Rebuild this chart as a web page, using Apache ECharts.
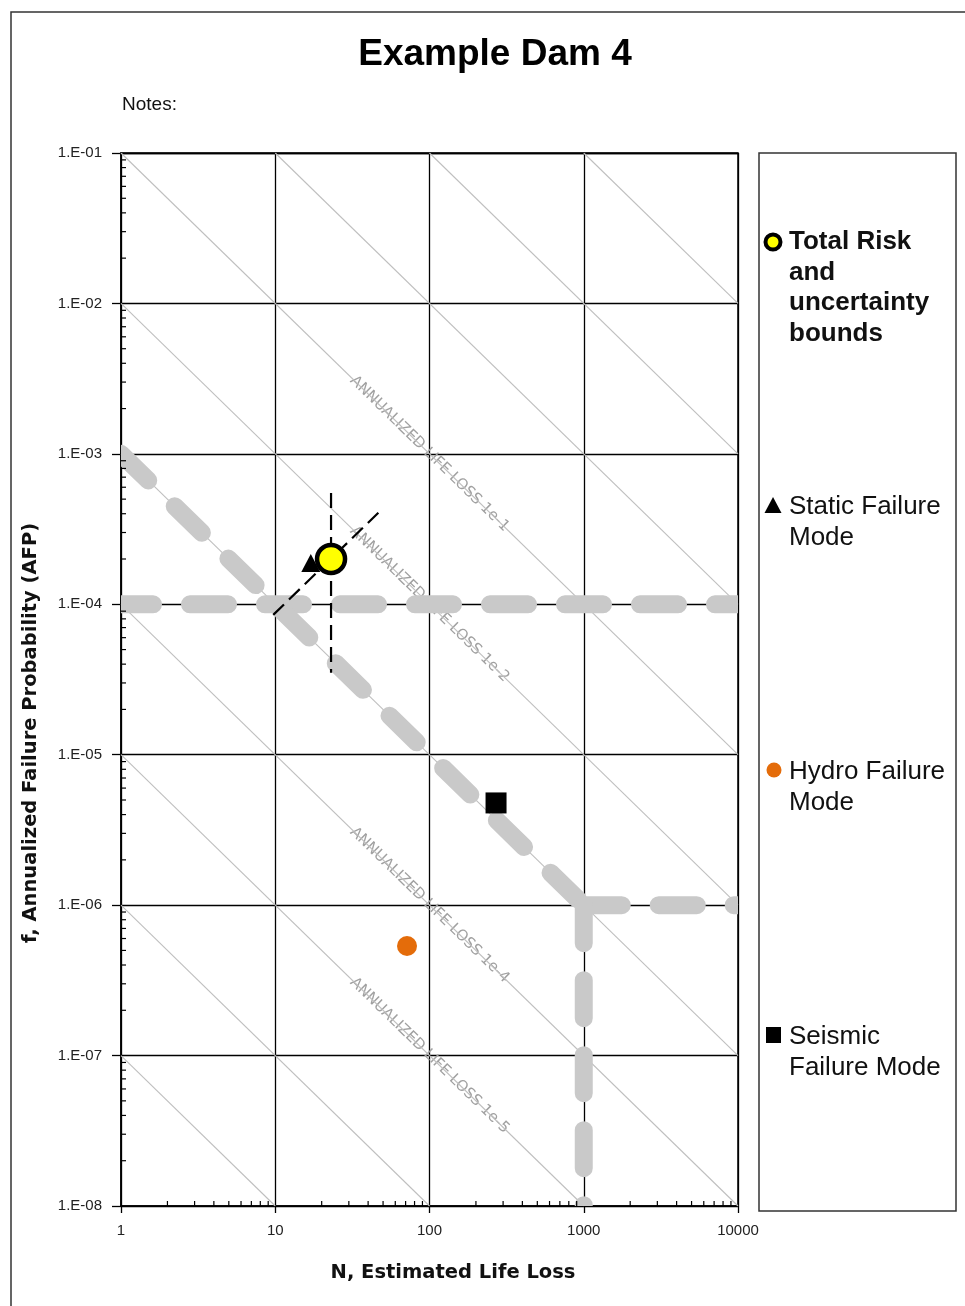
<!DOCTYPE html>
<html><head><meta charset="utf-8">
<script src="https://cdn.jsdelivr.net/npm/echarts@6/dist/echarts.min.js"></script>
<style>html,body{margin:0;padding:0;background:#fff}#c{width:965px;height:1306px}</style>
</head><body><div id="c"></div>
<script>
// ---- axis ticks ----
const xTickValues = [1, 10, 100, 1000, 10000];
const xTickLabels = ['1', '10', '100', '1000', '10000'];
const yTickValues = [1e-8, 1e-7, 1e-6, 1e-5, 1e-4, 1e-3, 1e-2, 1e-1];
const yTickLabels = ['1.E-08', '1.E-07', '1.E-06', '1.E-05', '1.E-04', '1.E-03', '1.E-02', '1.E-01'];
const minorMultipliers = [2, 3, 4, 5, 6, 7, 8, 9];

// ---- iso annualized life loss lines (f * N = level) ----
const isoRiskLevels = [1e2, 1e1, 1, 1e-1, 1e-2, 1e-3, 1e-4, 1e-5, 1e-6, 1e-7];
const isoLabelLevels = [1e-1, 1e-2, 1e-4, 1e-5];
const isoLabelTexts = ['ANNUALIZED LIFE LOSS 1e-1', 'ANNUALIZED LIFE LOSS 1e-2',
                       'ANNUALIZED LIFE LOSS 1e-4', 'ANNUALIZED LIFE LOSS 1e-5'];
const isoLabelN = 100;

// ---- guideline (limit) lines: [N1, f1, N2, f2] ----
const limitHorizontal = [1, 1e-4, 10000, 1e-4];
const limitDiagonal = [1, 1e-3, 1000, 1e-6];
const limitHorizontalLow = [1000, 1e-6, 10000, 1e-6];
const limitVertical = [1000, 1e-6, 1000, 1e-8];
const limitDashOffsets = [6, 0, 0, 0];

// ---- points ----
const totalRisk = [[23, 2.0e-4]];
const totalRiskBoundF = [[23, 5.5e-4], [23, 3.5e-5]];
const totalRiskBoundN = [[9.7, 8.5e-5], [46.6, 4.06e-4]];
const staticMode = [[17, 1.88e-4]];
const hydroMode = [[71.5, 5.35e-7]];
const seismicMode = [[270, 4.78e-6]];

const X_MIN = xTickValues[0], X_MAX = xTickValues[xTickValues.length - 1];
const Y_MIN = yTickValues[0], Y_MAX = yTickValues[yTickValues.length - 1];

const xLabelMap = {}; xTickValues.forEach((v, i) => xLabelMap[Math.round(Math.log10(v))] = xTickLabels[i]);
const yLabelMap = {}; yTickValues.forEach((v, i) => yLabelMap[Math.round(Math.log10(v))] = yTickLabels[i]);

const xMinor = []; xTickValues.slice(0, -1).forEach(d => minorMultipliers.forEach(m => xMinor.push([d * m, Y_MIN])));
const yMinor = []; yTickValues.slice(0, -1).forEach(d => minorMultipliers.forEach(m => yMinor.push([X_MIN, d * m])));

const GRAY = '#c9c9c9';
const series = [];

isoRiskLevels.forEach(c => {
  const n1 = Math.max(X_MIN, c / Y_MAX), n2 = Math.min(X_MAX, c / Y_MIN);
  series.push({
    type: 'line', silent: true, symbol: 'none', z: 1,
    data: [[n1, c / n1], [n2, c / n2]],
    lineStyle: { color: '#bfbfbf', width: 1.1 }
  });
});

series.push({
  type: 'custom', silent: true, z: 1,
  data: isoLabelLevels.map((c, i) => [isoLabelN, c / isoLabelN, i]),
  renderItem: function (params, api) {
    const c = api.value(0) * api.value(1);
    const p = api.coord([api.value(0), api.value(1)]);
    const a = api.coord([10, c / 10]), b = api.coord([1000, c / 1000]);
    const ang = Math.atan2(b[1] - a[1], b[0] - a[0]);
    return {
      type: 'text', x: p[0], y: p[1], rotation: -ang,
      style: { text: isoLabelTexts[api.value(2)], fill: '#a0a0a0',
               font: '15px "DejaVu Sans"', align: 'center', verticalAlign: 'middle' }
    };
  }
});

series.push({
  type: 'custom', silent: true, z: 3, clip: true,
  data: [limitHorizontal, limitDiagonal, limitHorizontalLow, limitVertical].map((d, i) => d.concat([limitDashOffsets[i]])),
  encode: { x: [0, 2], y: [1, 3] },
  renderItem: function (params, api) {
    const p1 = api.coord([api.value(0), api.value(1)]);
    const p2 = api.coord([api.value(2), api.value(3)]);
    return {
      type: 'line', shape: { x1: p1[0], y1: p1[1], x2: p2[0], y2: p2[1] },
      style: { stroke: GRAY, lineWidth: 18, lineDash: [38, 37], lineDashOffset: api.value(4), lineCap: 'round' }
    };
  }
});

[totalRiskBoundF, totalRiskBoundN].forEach(d => series.push({
  type: 'line', silent: true, symbol: 'none', z: 5, data: d,
  lineStyle: { color: '#000', width: 2.2, type: [15, 7] }
}));

series.push({ type: 'scatter', z: 6, data: staticMode, symbol: 'triangle', symbolSize: [19, 18], itemStyle: { color: '#000', opacity: 1 } });
series.push({ type: 'scatter', z: 6, data: hydroMode, symbol: 'circle', symbolSize: 20, itemStyle: { color: '#E46C0A', opacity: 1 } });
series.push({ type: 'scatter', z: 6, data: seismicMode, symbol: 'rect', symbolSize: 21, itemStyle: { color: '#000', opacity: 1 } });
series.push({ type: 'scatter', z: 7, data: totalRisk, symbol: 'circle', symbolSize: 28,
  itemStyle: { color: '#FFFF00', borderColor: '#000', borderWidth: 4.5, opacity: 1 } });

series.push({
  type: 'custom', silent: true, z: 8, data: xMinor,
  renderItem: function (params, api) {
    const p = api.coord([api.value(0), api.value(1)]);
    return { type: 'line', shape: { x1: p[0], y1: p[1], x2: p[0], y2: p[1] - 5 }, style: { stroke: '#000', lineWidth: 1.2 } };
  }
});
series.push({
  type: 'custom', silent: true, z: 8, data: yMinor,
  renderItem: function (params, api) {
    const p = api.coord([api.value(0), api.value(1)]);
    return { type: 'line', shape: { x1: p[0], y1: p[1], x2: p[0] + 5, y2: p[1] }, style: { stroke: '#000', lineWidth: 1.2 } };
  }
});

const legendFontB = 'bold 26px "Liberation Sans"';
const legendFont = '26px "Liberation Sans"';
const LH = 30.5;
function ltext(txt, x, yFirst, font) {
  return { type: 'text', x: x, y: yFirst - LH / 2, style: { text: txt, font: font, fill: '#111', lineHeight: LH, align: 'left', verticalAlign: 'top' } };
}

const option = {
  animation: false,
  backgroundColor: '#fff',
  grid: { left: 121, top: 153, right: 227, bottom: 100, show: true, borderColor: '#000', borderWidth: 1.5, backgroundColor: 'transparent' },
  xAxis: {
    type: 'log', logBase: 10, min: X_MIN, max: X_MAX,
    axisLine: { show: true, lineStyle: { color: '#000', width: 1.5 } },
    axisTick: { show: true, length: 7, lineStyle: { color: '#000', width: 1.3 } },
    splitLine: { show: true, lineStyle: { color: '#000', width: 1.3 } },
    minorTick: { show: false },
    axisLabel: { margin: 17, color: '#222', fontSize: 15, fontFamily: 'Liberation Sans',
      formatter: v => xLabelMap[Math.round(Math.log10(v))] ?? '' }
  },
  yAxis: {
    type: 'log', logBase: 10, min: Y_MIN, max: Y_MAX,
    axisLine: { show: true, lineStyle: { color: '#000', width: 1.5 } },
    axisTick: { show: true, length: 9, lineStyle: { color: '#000', width: 1.3 } },
    splitLine: { show: true, lineStyle: { color: '#000', width: 1.3 } },
    axisLabel: { margin: 19, color: '#222', fontSize: 15, fontFamily: 'Liberation Sans', padding: [0, 0, 10, 0],
      formatter: v => yLabelMap[Math.round(Math.log10(v))] ?? '' }
  },
  series: series,
  graphic: [
    { type: 'rect', silent: true, shape: { x: 11, y: 12, width: 975, height: 1320 }, style: { fill: 'none', stroke: '#333', lineWidth: 1.5 } },
    { type: 'text', x: 495, y: 55, style: { text: 'Example Dam 4', font: 'bold 37px "Liberation Sans"', fill: '#000', align: 'center', verticalAlign: 'middle' } },
    { type: 'text', x: 122, y: 105, style: { text: 'Notes:', font: '19px "Liberation Sans"', fill: '#111', align: 'left', verticalAlign: 'middle' } },
    { type: 'text', x: 453, y: 1273, style: { text: 'N, Estimated Life Loss', font: 'bold 19.5px "DejaVu Sans"', fill: '#111', align: 'center', verticalAlign: 'middle' } },
    { type: 'text', x: 31, y: 733, rotation: Math.PI / 2, style: { text: 'f, Annualized Failure Probability (AFP)', font: 'bold 19.5px "DejaVu Sans"', fill: '#111', align: 'center', verticalAlign: 'middle' } },
    { type: 'rect', silent: true, shape: { x: 759, y: 153, width: 197, height: 1058 }, style: { fill: 'none', stroke: '#333', lineWidth: 1.5 } },
    { type: 'circle', shape: { cx: 773, cy: 242, r: 7.5 }, style: { fill: '#FFFF00', stroke: '#000', lineWidth: 4 } },
    ltext('Total Risk\nand\nuncertainty\nbounds', 789, 242, legendFontB),
    { type: 'polygon', shape: { points: [[764.5, 513], [781.5, 513], [773, 497]] }, style: { fill: '#000' } },
    ltext('Static Failure\nMode', 789, 507, legendFont),
    { type: 'circle', shape: { cx: 774, cy: 770, r: 7.5 }, style: { fill: '#E46C0A' } },
    ltext('Hydro Failure\nMode', 789, 772, legendFont),
    { type: 'rect', shape: { x: 766, y: 1027, width: 15, height: 16 }, style: { fill: '#000' } },
    ltext('Seismic\nFailure Mode', 789, 1037, legendFont)
  ]
};

const chart = echarts.init(document.getElementById('c'), null, { renderer: 'canvas' });
chart.setOption(option);
</script>
</body></html>
